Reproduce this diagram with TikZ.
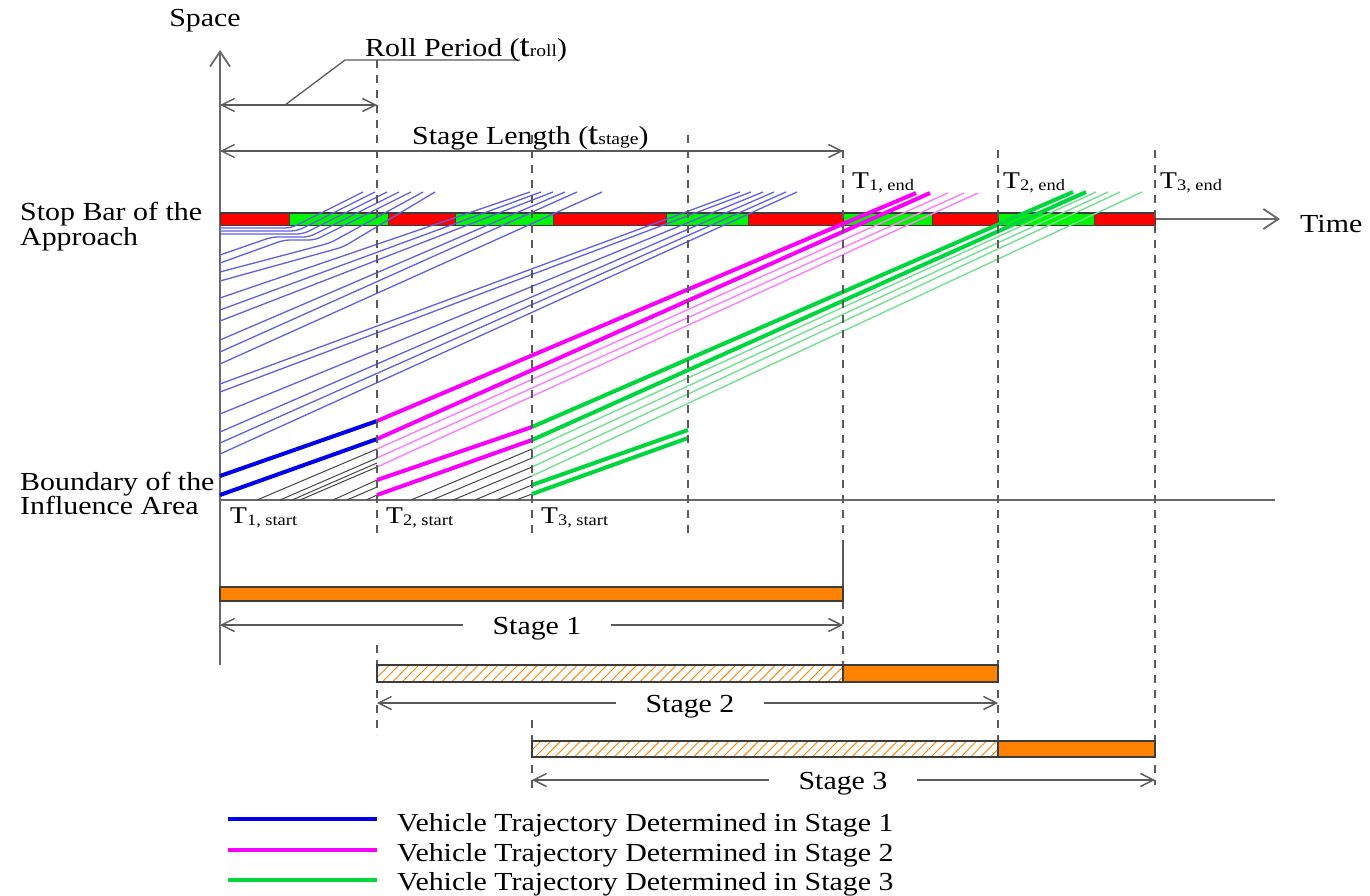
\documentclass[tikz,border=0pt]{standalone}
\usepackage{fontspec}
\setmainfont{Liberation Serif}[FakeStretch=1.15]
\usetikzlibrary{arrows.meta,patterns.meta}
\definecolor{axisgray}{RGB}{105,105,105}
\definecolor{dimgray}{RGB}{90,90,90}
\definecolor{barline}{RGB}{60,60,60}
\definecolor{sbred}{RGB}{255,0,0}
\definecolor{sbgreen}{RGB}{0,245,0}
\definecolor{tblue}{RGB}{95,95,235}
\definecolor{kblue}{RGB}{0,0,235}
\definecolor{kmag}{RGB}{250,0,250}
\definecolor{tmag}{RGB}{255,125,255}
\definecolor{kgreen}{RGB}{0,215,60}
\definecolor{tgreen}{RGB}{115,225,145}
\definecolor{tgray}{RGB}{70,70,70}
\definecolor{orng}{RGB}{255,130,0}
\begin{document}
\begin{tikzpicture}[x=1pt,y=-1pt,
  axisline/.style={draw=axisgray,line width=2.2pt},
  bigtip/.style={-{Straight Barb[length=15pt,width=20pt,line width=1.8pt]}},
  vdash/.style={draw=dimgray,line width=1.8pt,dash pattern=on 8pt off 7pt},
  vsolid/.style={draw=dimgray,line width=1.6pt},
  dimarrow/.style={draw=dimgray,line width=1.4pt,{Straight Barb[length=13pt,width=13pt]}-{Straight Barb[length=13pt,width=13pt]}},
  lab/.style={font=\fontsize{26}{28}\selectfont,inner sep=0pt},
  tlab/.style={font=\fontsize{24}{26}\selectfont,inner sep=0pt,anchor=base west},
  gaplab/.style={font=\fontsize{26}{28}\selectfont,fill=white,inner xsep=30pt,inner ysep=2pt,anchor=base},
  redseg/.style={fill=sbred,draw=barline,line width=1pt},
  greenseg/.style={fill=sbgreen,draw=barline,line width=1pt},
  thinb/.style={draw=tblue,line width=1.3pt,rounded corners=6pt},
  thickb/.style={draw=kblue,line width=4pt},
  thickm/.style={draw=kmag,line width=4pt},
  thinm/.style={draw=tmag,line width=1.4pt},
  thickg/.style={draw=kgreen,line width=4pt},
  thing/.style={draw=tgreen,line width=1.4pt},
  grayl/.style={draw=tgray,line width=1pt},
  orangebar/.style={fill=orng,draw=barline,line width=1.2pt},
  hatchbar/.style={pattern={Lines[angle=45,distance=7pt,line width=0.9pt]},pattern color=orng,draw=barline,line width=1.2pt},
  legline/.style={line width=4pt}
]
\useasboundingbox (0,0) rectangle (1370,896);
\fill[white] (0,0) rectangle (1370,896);

% ---------- axes ----------
\coordinate (O) at (220,665);
\coordinate (Ytop) at (220,50);
\coordinate (T0) at (220,219);
\coordinate (T1) at (1280,219);
\coordinate (Bd0) at (220,500);
\coordinate (Bd1) at (1275,500);
\draw[axisline,bigtip] (O) -- (Ytop);
\draw[axisline,bigtip] (T0) -- (T1);
\draw[axisline] (Bd0) -- (Bd1);

% ---------- stop bar signal ----------
\draw[redseg]   (220,213) rectangle (289,225);
\draw[greenseg] (289,213) rectangle (388,225);
\draw[redseg]   (388,213) rectangle (455,225);
\draw[greenseg] (455,213) rectangle (553,225);
\draw[redseg]   (553,213) rectangle (666,225);
\draw[greenseg] (666,213) rectangle (748,225);
\draw[redseg]   (748,213) rectangle (843,225);
\draw[greenseg] (843,213) rectangle (932,225);
\draw[redseg]   (932,213) rectangle (998,225);
\draw[greenseg] (998,213) rectangle (1094,225);
\draw[redseg]   (1094,213) rectangle (1155,225);

% ---------- gray (undetermined) trajectories ----------
\draw[grayl] (257,500) -- (377,449);
\draw[grayl] (280,500) -- (377,458);
\draw[grayl] (292,500) -- (377,463);
\draw[grayl] (300,500) -- (377,467);
\draw[grayl] (333,500) -- (377,480);
\draw[grayl] (347,500) -- (377,487);
\draw[grayl] (366,500) -- (377,495);
\draw[grayl] (411,500) -- (532,449);
\draw[grayl] (432,500) -- (532,458);
\draw[grayl] (453,500) -- (532,467);
\draw[grayl] (475,500) -- (532,476);
\draw[grayl] (496,500) -- (532,485);
\draw[grayl] (516,500) -- (532,494);

% ---------- blue trajectories (stage 1) ----------
\draw[thinb] (220,228) -- (291,228) -- (363,192);
\draw[thinb] (220,231) -- (297,231) -- (375,192);
\draw[thinb] (220,234) -- (303,234) -- (387,192);
\draw[thinb] (220,255) -- (272,237) -- (309,237) -- (399,192);
\draw[thinb] (220,263) -- (284,240) -- (315,240) -- (411,192);
\draw[thinb] (220,272) -- (330,243) -- (423,192);
\draw[thinb] (220,281) -- (343,247) -- (435,192);
\draw[thinb] (220,298) -- (530,192);
\draw[thinb] (220,310) -- (541,192);
\draw[thinb] (220,321) -- (553,192);
\draw[thinb] (220,340) -- (565,192);
\draw[thinb] (220,352) -- (577,192);
\draw[thinb] (220,364) -- (602,192);
\draw[thinb] (220,384) -- (740,192);
\draw[thinb] (220,392) -- (751,192);
\draw[thinb] (220,414) -- (763,192);
\draw[thinb] (220,432) -- (774,192);
\draw[thinb] (220,443) -- (786,192);
\draw[thinb] (220,454) -- (797,192);
\draw[thickb] (220,476) -- (377,421);
\draw[thickb] (220,495) -- (377,439);

% ---------- magenta trajectories (stage 2) ----------
\draw[thinm] (377,449) -- (948,193);
\draw[thinm] (377,458) -- (964,193);
\draw[thinm] (377,467) -- (978,193);
\draw[thickm] (377,421) -- (916,193);
\draw[thickm] (377,439) -- (930,193);
\draw[thickm] (377,480) -- (532,427);
\draw[thickm] (377,495) -- (532,440);

% ---------- green trajectories (stage 3) ----------
\draw[thing] (532,449) -- (1096,192);
\draw[thing] (532,458) -- (1108,192);
\draw[thing] (532,467) -- (1120,192);
\draw[thing] (532,476) -- (1142,192);
\draw[thickg] (532,427) -- (1073,192);
\draw[thickg] (532,440) -- (1086,192);
\draw[thickg] (532,485) -- (688,430);
\draw[thickg] (532,494) -- (688,438);

% ---------- vertical time marks ----------
\draw[vdash] (377,60) -- (377,535);
\draw[vdash] (377,645) -- (377,735);
\draw[vdash] (532,135) -- (532,535);
\draw[vdash] (532,720) -- (532,790);
\draw[vdash] (688,135) -- (688,535);
\draw[vdash] (843,150) -- (843,535);
\draw[vsolid] (843,540) -- (843,587);
\draw[vdash] (843,601) -- (843,665);
\draw[vdash] (998,150) -- (998,535);
\draw[vdash] (998,540) -- (998,741);
\draw[vdash] (1155,150) -- (1155,535);
\draw[vdash] (1155,540) -- (1155,785);

% ---------- stage bars ----------
\draw[orangebar] (220,587) rectangle (843,601);
\draw[hatchbar]  (377,665) rectangle (843,682);
\draw[orangebar] (843,665) rectangle (998,682);
\draw[hatchbar]  (532,741) rectangle (998,757);
\draw[orangebar] (998,741) rectangle (1155,757);

% ---------- dimension arrows ----------
\coordinate (r0) at (220,105); \coordinate (r1) at (377,105);
\draw[dimarrow] (r0) -- (r1);
\coordinate (s0) at (220,151); \coordinate (s1) at (843,151);
\draw[dimarrow] (s0) -- (s1);
\coordinate (a0) at (220,625); \coordinate (a1) at (843,625);
\draw[dimarrow] (a0) -- (a1);
\coordinate (b0) at (377,703); \coordinate (b1) at (998,703);
\draw[dimarrow] (b0) -- (b1);
\coordinate (c0) at (532,780); \coordinate (c1) at (1155,780);
\draw[dimarrow] (c0) -- (c1);

% roll period leader
\coordinate (L0) at (285,105); \coordinate (L1) at (345,60); \coordinate (L2) at (520,60);
\draw[draw=dimgray,line width=1.3pt] (L0) -- (L1) -- (L2);

% ---------- texts ----------
\node[lab,anchor=base] (space) at (205,27) {Space};
\node[lab,anchor=base west] (roll) at (365,57) {Roll Period ({\fontsize{32}{32}\selectfont t}{\fontsize{17}{17}\selectfont roll})};
\node[lab,anchor=base west] (stagelen) at (412,145) {Stage Length ({\fontsize{32}{32}\selectfont t}{\fontsize{17}{17}\selectfont stage})};
\node[lab,anchor=base west] (stop1) at (20,220) {Stop Bar of the};
\node[lab,anchor=base west] (stop2) at (20,245) {Approach};
\node[lab,anchor=base west] (bnd1) at (20,490) {Boundary of the};
\node[lab,anchor=base west] (bnd2) at (20,514) {Influence Area};
\node[lab,anchor=base west] (time) at (1300,233) {Time};

\node[tlab] (t1e) at (852,189) {T\raisebox{-2pt}{\fontsize{16}{16}\selectfont 1, end}};
\node[tlab] (t2e) at (1003,189) {T\raisebox{-2pt}{\fontsize{16}{16}\selectfont 2, end}};
\node[tlab] (t3e) at (1160,189) {T\raisebox{-2pt}{\fontsize{16}{16}\selectfont 3, end}};
\node[tlab] (t1s) at (230,523) {T\raisebox{-2pt}{\fontsize{16}{16}\selectfont 1, start}};
\node[tlab] (t2s) at (386,523) {T\raisebox{-2pt}{\fontsize{16}{16}\selectfont 2, start}};
\node[tlab] (t3s) at (541,523) {T\raisebox{-2pt}{\fontsize{16}{16}\selectfont 3, start}};

\node[gaplab] (st1) at (537,634) {Stage 1};
\node[gaplab] (st2) at (690,712) {Stage 2};
\node[gaplab] (st3) at (843,789) {Stage 3};

% ---------- legend ----------
\coordinate (lg1a) at (228,819); \coordinate (lg1b) at (377,819);
\coordinate (lg2a) at (228,850); \coordinate (lg2b) at (377,850);
\coordinate (lg3a) at (228,880); \coordinate (lg3b) at (377,880);
\draw[legline,draw=kblue] (lg1a) -- (lg1b);
\draw[legline,draw=kmag] (lg2a) -- (lg2b);
\draw[legline,draw=kgreen] (lg3a) -- (lg3b);
\node[lab,anchor=base west] (leg1) at (397,831) {Vehicle Trajectory Determined in Stage 1};
\node[lab,anchor=base west] (leg2) at (397,861) {Vehicle Trajectory Determined in Stage 2};
\node[lab,anchor=base west] (leg3) at (397,890) {Vehicle Trajectory Determined in Stage 3};
\end{tikzpicture}
\end{document}
